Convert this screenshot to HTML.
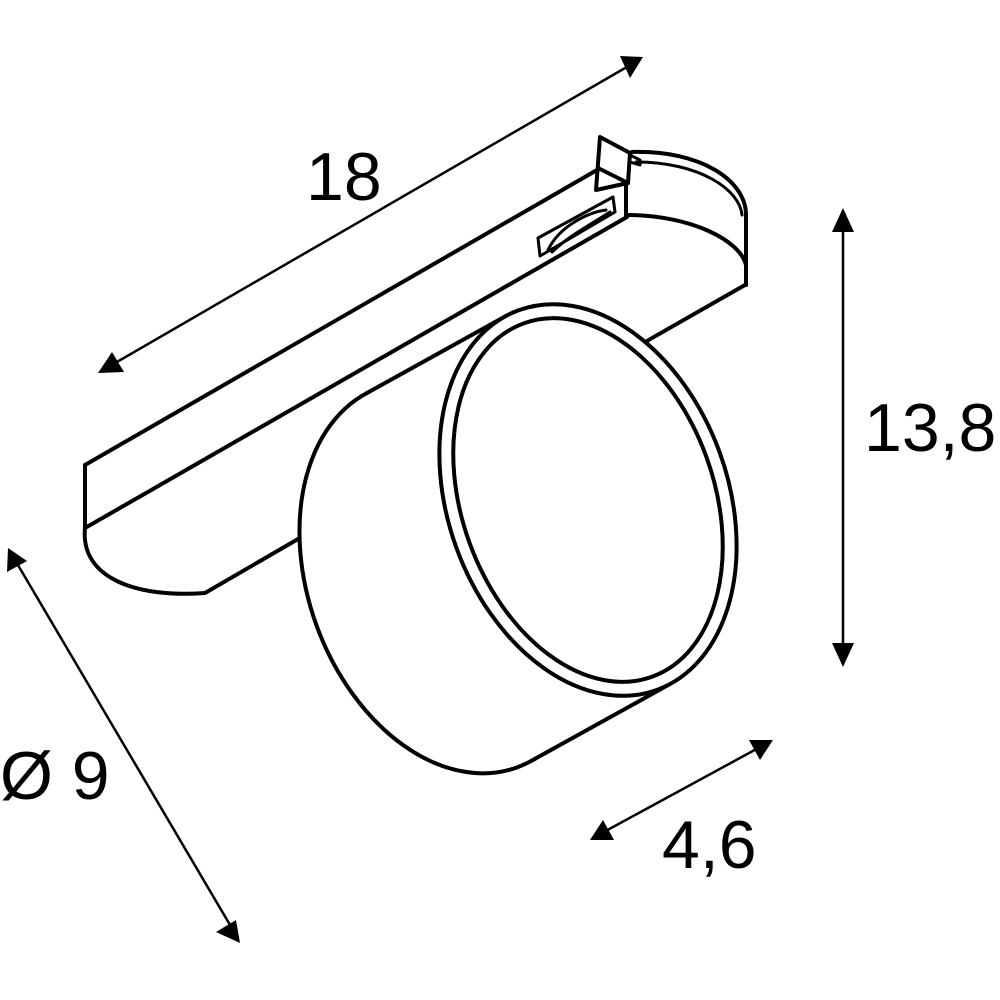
<!DOCTYPE html>
<html><head><style>html,body{margin:0;padding:0;background:#fff}svg{display:block}</style></head>
<body>
<svg width="1000" height="1000" viewBox="0 0 1000 1000" xmlns="http://www.w3.org/2000/svg">
<g fill="none" stroke="#000" stroke-width="4" stroke-linejoin="round" stroke-linecap="round">
  <!-- rail -->
  <line x1="85" y1="465" x2="597" y2="170"/>
  <line x1="85" y1="528" x2="627" y2="217"/>
  <line x1="85" y1="465" x2="85" y2="528"/>
  <path d="M85 528 C80 580 140 598 205 593 L305 535"/>
  <path d="M745 285 L610 362"/>
  <path d="M632 152 C700 150 746 180 746 215 L746 285"/>
  <path d="M636 162 C700 162 740 190 742 215" stroke-width="3"/>
  <path d="M627 215 C690 215 740 240 746 265"/>
  <line x1="626" y1="183" x2="626" y2="217"/>
  <polygon points="600,137 630,153 628,183 596,190" fill="#fff"/>
  <line x1="598" y1="168" x2="628" y2="183"/>
  <polygon points="630,155 640,160 640,165 630,162" stroke-width="3"/>
  <polygon points="538,238 613,197 615,212 540,256" stroke-width="3"/>
  <path d="M548 250 C560 225 590 212 606 210" stroke-width="3"/>
  <path d="M552 252 C570 235 590 225 610 212" stroke-width="3"/>
  <!-- cylinder -->
  <g transform="translate(588,500) rotate(-20)">
    <polygon points="13.9,201 -13.9,-201 -171.9,-176 -144.1,226" fill="#fff" stroke="none"/>
    <ellipse cx="-158" cy="25" rx="140" ry="202" fill="#fff"/>
    <polygon points="13.9,201 -13.9,-201 -171.9,-176 -144.1,226" fill="#fff" stroke="none"/>
    <line x1="13.9" y1="201" x2="-144.1" y2="226"/>
    <line x1="-13.9" y1="-201" x2="-171.9" y2="-176"/>
    <ellipse cx="0" cy="0" rx="140" ry="202" fill="#fff"/>
    <ellipse cx="0" cy="0" rx="126" ry="188"/>
  </g>
</g>
<!-- dimension lines -->
<g stroke="#000" stroke-width="2.5">
  <line x1="110" y1="366" x2="632" y2="64"/>
  <line x1="843" y1="225" x2="843" y2="650"/>
  <line x1="15" y1="560" x2="233" y2="930"/>
  <line x1="602" y1="833" x2="762" y2="746"/>
</g>
<g fill="#000">
  <polygon points="643,57 620,56 630,78"/>
  <polygon points="98,373 112,352 124,372"/>
  <polygon points="843,208 832,232 854,232"/>
  <polygon points="843,667 832,643 854,643"/>
  <polygon points="8,548 7,572 27,561"/>
  <polygon points="240,943 216,932 236,920"/>
  <polygon points="773,740 749,740 760,760"/>
  <polygon points="590,840 603,820 614,840"/>
</g>
<g font-family="Liberation Sans, Arial, sans-serif" font-size="68" fill="#000">
  <text x="306" y="200">18</text>
  <text x="864" y="451">13,8</text>
  <text x="0" y="799">Ø 9</text>
  <text x="662" y="868">4,6</text>
</g>
</svg>
</body></html>
